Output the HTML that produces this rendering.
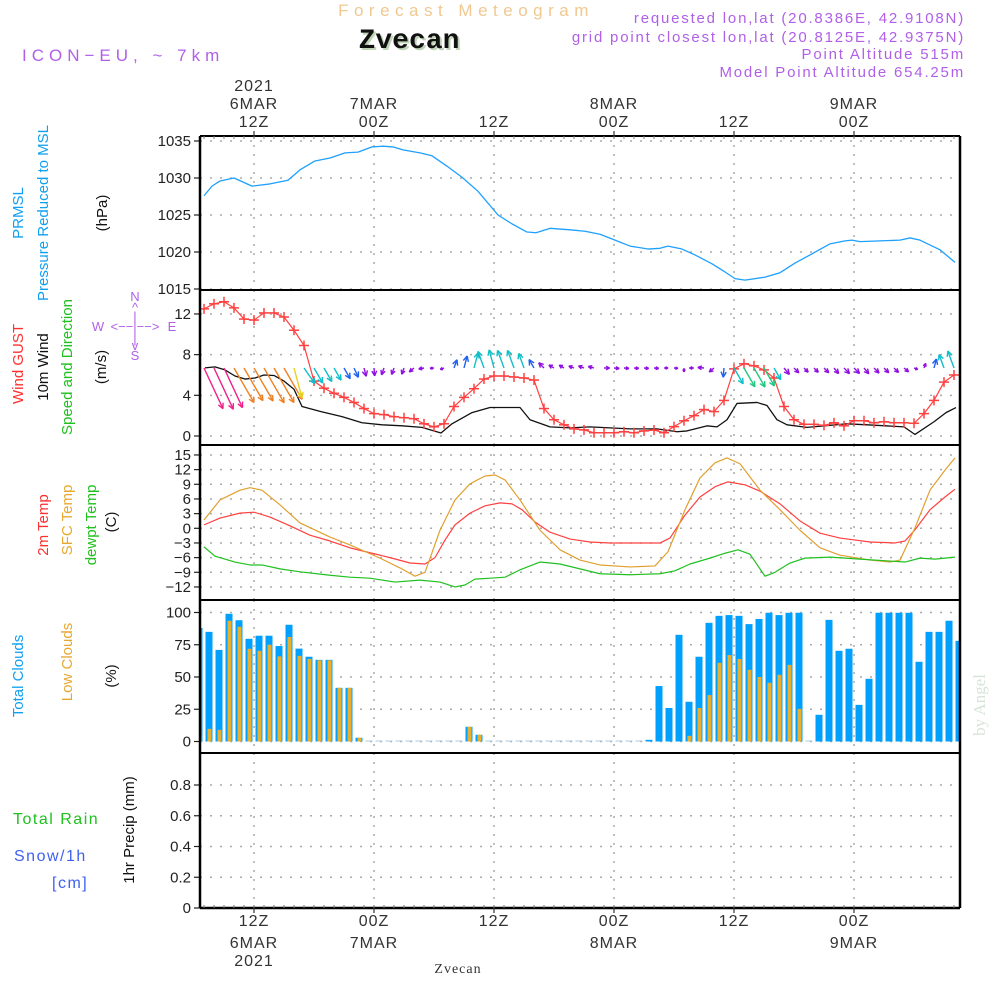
<!DOCTYPE html>
<html><head><meta charset="utf-8"><style>
body{margin:0;background:#fff;}
svg{display:block;font-family:"Liberation Sans",sans-serif;}
</style></head><body>
<svg id="chart" width="1000" height="1000" viewBox="0 0 1000 1000" xmlns="http://www.w3.org/2000/svg">
<rect width="1000" height="1000" fill="#fff"/>
<text x="466" y="16" text-anchor="middle" font-size="17" fill="#f0c890" letter-spacing="5.5">Forecast Meteogram</text>
<text x="411" y="50" text-anchor="middle" font-size="28" font-weight="bold" font-family="Liberation Mono,monospace" fill="#c0d4b8">Zvecan</text>
<text x="409" y="48" text-anchor="middle" font-size="28" font-weight="bold" font-family="Liberation Mono,monospace" fill="#111">Zvecan</text>
<text x="22" y="61" font-size="17" fill="#b060e8" letter-spacing="5">ICON−EU, ~ 7km</text>
<g font-size="15" fill="#b060e8" text-anchor="end" letter-spacing="1.8">
<text x="965" y="23">requested lon,lat (20.8386E, 42.9108N)</text>
<text x="965" y="42">grid point closest lon,lat (20.8125E, 42.9375N)</text>
<text x="965" y="59">Point Altitude 515m</text>
<text x="965" y="77">Model Point Altitude 654.25m</text>
</g>
<g font-size="15">
<text transform="translate(23,213) rotate(-90)" text-anchor="middle" fill="#10a0f0">PRMSL</text>
<text transform="translate(48,213) rotate(-90)" text-anchor="middle" fill="#10a0f0">Pressure Reduced to MSL</text>
<text transform="translate(107,213) rotate(-90)" text-anchor="middle" fill="#111">(hPa)</text>
<text transform="translate(23,364) rotate(-90)" text-anchor="middle" fill="#ff3030">Wind GUST</text>
<text transform="translate(48,367) rotate(-90)" text-anchor="middle" fill="#111">10m Wind</text>
<text transform="translate(72,367) rotate(-90)" text-anchor="middle" fill="#20c020">Speed and Direction</text>
<text transform="translate(106,367) rotate(-90)" text-anchor="middle" fill="#111">(m/s)</text>
<text transform="translate(48,525) rotate(-90)" text-anchor="middle" fill="#ff3030">2m Temp</text>
<text transform="translate(72,520) rotate(-90)" text-anchor="middle" fill="#e8a830">SFC Temp</text>
<text transform="translate(96,525) rotate(-90)" text-anchor="middle" fill="#20c020">dewpt Temp</text>
<text transform="translate(116,522) rotate(-90)" text-anchor="middle" fill="#111">(C)</text>
<text transform="translate(23,676) rotate(-90)" text-anchor="middle" fill="#10a0f0">Total Clouds</text>
<text transform="translate(72,662) rotate(-90)" text-anchor="middle" fill="#e8a830">Low Clouds</text>
<text transform="translate(116,676) rotate(-90)" text-anchor="middle" fill="#111">(%)</text>
<text transform="translate(134,830) rotate(-90)" text-anchor="middle" fill="#111">1hr Precip (mm)</text>
<text x="13" y="824" fill="#20c020" letter-spacing="1.5" font-size="16">Total  Rain</text>
<text x="14" y="861" fill="#4060f0" letter-spacing="1.5" font-size="16">Snow/1h</text>
<text x="52" y="888" fill="#4060f0" letter-spacing="1.5" font-size="16">[cm]</text>
</g>
<g fill="#b060e8" font-size="13" text-anchor="middle">
<text x="135" y="301">N</text><text x="135" y="312">^</text><text x="135" y="321">|</text>
<text x="135" y="331">&lt;−−|−−&gt;</text><text x="98" y="331">W</text><text x="172" y="331">E</text>
<text x="135" y="343">|</text><text x="135" y="350">v</text><text x="135" y="360">S</text>
</g>
<text transform="translate(985,705) rotate(-90)" text-anchor="middle" font-size="17" font-family="Liberation Serif,serif" fill="#d8e4d8">by Angel</text>
<text x="458" y="973" text-anchor="middle" font-size="14" font-family="Liberation Serif,serif" fill="#333" letter-spacing="1">Zvecan</text>
<g id="plot"></g>
</svg>
<script>
// ---- data ----
const pressH=[7,7.8,8.6,10,11.8,13.6,15.4,16.6,18.1,19.6,21.1,22.4,23.8,24.9,25.9,26.9,28.6,29.8,31.3,32.8,34.4,36.4,37.8,39.3,40.2,41.6,43.6,45.1,46.6,48.1,49.6,51.4,52.6,53.4,54.8,56.1,57.8,59.1,60.1,61.1,63.1,64.6,66.1,67.6,69.6,71.1,71.8,72.6,74.6,76.6,77.6,78.6,80.6,82.1];
const pressV=[1027.6,1028.9,1029.6,1030.0,1028.9,1029.2,1029.7,1031.1,1032.3,1032.7,1033.4,1033.5,1034.2,1034.3,1034.2,1033.8,1033.4,1033.0,1031.6,1030.1,1028.2,1025.0,1023.8,1022.7,1022.6,1023.2,1023.0,1022.8,1022.4,1021.6,1020.8,1020.4,1020.5,1020.8,1020.4,1019.6,1018.4,1017.3,1016.4,1016.2,1016.6,1017.2,1018.5,1019.6,1021.1,1021.5,1021.6,1021.4,1021.5,1021.6,1021.9,1021.6,1020.3,1018.6];
const pressTicks=[1015,1020,1025,1030,1035];
const gustH=[7,8,9,10,11,12,13,14,15,16,17,18,19,20,21,22,23,24,25,26,27,28,29,30,31,32,33,34,35,36,37,38,39,40,41,42,43,44,45,46,47,48,49,50,51,52,53,54,55,56,57,58,59,60,61,62,63,64,65,66,67,68,69,70,71,72,73,74,75,76,77,78,79,80,81,82];
const gustV=[12.5,13.0,13.2,12.6,11.5,11.4,12.1,12.1,11.7,10.4,8.9,5.4,4.7,4.2,3.8,3.3,2.7,2.2,2.1,1.9,1.8,1.7,1.2,0.9,1.2,2.9,3.8,4.65,5.6,5.9,5.9,5.8,5.7,5.5,2.7,1.6,1.1,0.7,0.6,0.32,0.32,0.32,0.42,0.32,0.5,0.59,0.32,0.92,1.5,2.0,2.6,2.4,3.5,6.6,7.1,6.9,6.5,5.7,2.9,1.6,1.15,1.15,1.05,1.3,1.0,1.5,1.5,1.3,1.4,1.3,1.3,1.25,2.2,3.5,5.3,6.0];
const spdH=[7.1,8.1,9.1,10.1,11.1,12.1,13,14,15,16,16.8,18.7,20.8,22.8,24.8,26.8,28.8,30.7,31.8,33.8,35.6,36.6,38.6,39.6,41.6,43.6,45.6,47.6,49.6,52.3,54.3,55.3,57.3,58.3,59.3,60.3,62.3,63.3,64.3,65.3,67.3,71.3,73.3,77,78.1,80,81.2,82.2];
const spdV=[6.7,6.8,6.5,5.9,5.6,5.7,6.0,5.95,5.4,4.6,2.9,2.4,1.9,1.3,1.1,1.0,0.85,0.3,1.2,2.3,2.8,2.8,2.8,1.6,0.9,0.8,0.9,0.8,0.7,0.7,0.42,0.5,1.0,0.9,1.6,3.2,3.3,3.0,1.6,1.1,0.85,1.2,1.1,0.9,0.15,1.4,2.3,2.8];
const arrowH=[7,8,9,10,11,12,13,14,15,16,17,18,19,20,21,22,23,24,25,26,27,28,29,30,31,32,33,34,35,36,37,38,39,40,41,42,43,44,45,46,47,48,49,50,51,52,53,54,55,56,57,58,59,60,61,62,63,64,65,66,67,68,69,70,71,72,73,74,75,76,77,78,79,80,81,82];
const arrowDir=[155,155,155,150,150,150,150,150,150,165,145,150,150,150,150,155,165,175,200,200,200,230,260,265,250,20,15,15,340,345,340,340,340,330,315,300,300,290,290,285,90,95,95,95,95,95,90,95,180,270,275,230,185,150,150,150,150,150,140,135,135,135,135,140,135,135,140,135,135,135,130,110,20,15,340,340];
const windTicks=[0,4,8,12];
const t2H=[7,8.6,10.6,12,13.6,15.6,17.6,19.6,21.6,23.6,25.6,27.6,29.1,30.1,31.1,32.1,33.6,35.1,36.6,37.8,38.8,40.1,41.6,43.6,45.6,47.6,50.6,52.6,53.6,55.1,56.6,58.1,59.4,61.1,62.6,64.6,66.6,68.6,70.6,73.6,76.1,77.1,78.1,79.6,81.1,82.1];
const t2V=[0.7,2.1,3.1,3.3,2.3,0.5,-1.4,-2.6,-4.0,-5.0,-6.0,-7.1,-7.3,-6.0,-2.4,0.7,3.1,4.6,5.2,5.0,3.8,1.3,-0.8,-2.2,-2.8,-3.0,-3.0,-3.0,-2.0,2.7,6.4,8.5,9.5,8.9,7.6,5.0,1.5,-1.0,-2.0,-2.8,-3.0,-2.6,-0.3,3.8,6.4,8.0];
const sfcH=[7,8.6,10.6,11.6,12.8,14.6,16.6,19.6,21.6,24.6,26.6,28.1,29.1,30.6,32.1,33.6,35.1,36.1,37.1,38.6,40.6,42.6,44.6,46.6,49.6,52.1,53.4,55.1,56.6,58.1,59.3,60.6,62.6,64.6,66.6,68.6,70.6,73.6,75.6,76.6,78.1,79.6,81.1,82.1];
const sfcV=[1.7,5.8,7.8,8.3,7.8,4.8,1.1,-1.8,-3.4,-6.1,-8.1,-9.8,-9.0,-0.4,5.8,9.1,10.7,10.9,9.9,5.8,-0.4,-4.4,-6.5,-7.5,-7.9,-7.7,-4.8,3.8,10.3,13.4,14.4,13.2,7.8,3.8,-0.4,-4.0,-5.5,-6.5,-6.9,-6.5,0.1,7.8,11.9,14.4];
const dewH=[7,8.1,10.1,11.6,12.8,14.6,16.6,19.6,21.6,23.6,26.1,28.6,30.6,32.1,33.1,34.1,35.6,37.1,38.6,40.6,42.6,44.6,46.6,49.6,52.6,54.1,55.6,57.6,59.1,60.4,61.6,63.1,64.1,65.6,67.1,69.6,72.6,75.6,77.1,78.6,80.1,82.1];
const dewV=[-3.8,-5.7,-6.9,-7.5,-7.5,-8.3,-8.9,-9.6,-10.0,-10.2,-11.0,-10.6,-11.0,-12.0,-11.6,-10.4,-10.2,-10.0,-8.5,-6.9,-7.3,-8.3,-9.3,-9.5,-9.3,-8.7,-7.3,-6.1,-5.1,-4.4,-5.3,-9.8,-9.0,-7.1,-6.1,-5.9,-6.3,-6.7,-6.9,-6.1,-6.3,-5.9];
const tempTicks=[-12,-9,-6,-3,0,3,6,9,12,15];
const cloudH=[6,7,8,9,10,11,12,13,14,15,16,17,18,19,20,21,22,23,24,25,26,27,28,29,30,31,32,33,34,35,36,37,38,39,40,41,42,43,44,45,46,47,48,49,50,51,52,53,54,55,56,57,58,59,60,61,62,63,64,65,66,67,68,69,70,71,72,73,74,75,76,77,78,79,80,81,82];
const totalCloud=[88,85,71,99,94,79.6,82,82,74,90.5,72,65.7,63.3,63.3,41.6,41.6,2.9,0,0,0,0,0,0,0,0,0,0,11.4,5.2,0,0,0,0,0,0,0,0,0,0,0,0,0,0,0,0,1.3,43,26,82.7,30.8,65.7,92,97.4,98,97.4,91,95,99.8,98,99.8,99.8,0,20.7,94.3,70.3,71.9,28.4,48.6,99.8,99.8,99.8,99.8,61.8,85,85,93.6,78];
const lowCloud=[4.7,9.8,9,93.6,88.9,71.9,70.3,75,66,81,66.4,64,63,63,41.6,41.6,2.9,0,0,0,0,0,0,0,0,0,0,11.4,5.2,0,0,0,0,0,0,0,0,0,0,0,0,0,0,0,0,0,0,0,0,4.4,26,36,61,67,64,55.6,50,45.5,51.7,59.4,25.3,0,0,0,0,0,0,0,0,0,0,0,0,0,0,0,0];
const cloudTicks=[0,25,50,75,100];
const precipTicks=[0,0.2,0.4,0.6,0.8];
const topLabels=[[12,"2021","6MAR","12Z"],[24,"","7MAR","00Z"],[36,"","","12Z"],[48,"","8MAR","00Z"],[60,"","","12Z"],[72,"","9MAR","00Z"]];
const botLabels=[[12,"12Z","6MAR","2021"],[24,"00Z","7MAR",""],[36,"12Z","",""],[48,"00Z","8MAR",""],[60,"12Z","",""],[72,"00Z","9MAR",""]];

// ---- scales ----
const L=200,R=960;
const X=h=>134+10*h;
const yP=p=>141+(1035-p)*7.4;
const yW=v=>436-v*10.17;
const yT=t=>528.3-t*4.889;
const yC=c=>741.5-c*1.29;
const yR=r=>908-r*153.75;
const panels=[[136,290],[290,445],[445,600],[600,753],[753,908]];

const NS="http://www.w3.org/2000/svg";
const plot=document.getElementById('plot');
function mk(tag,attrs,parent){const e=document.createElementNS(NS,tag);for(const k in attrs)e.setAttribute(k,attrs[k]);(parent||plot).appendChild(e);return e;}
function line(x1,y1,x2,y2,st,w,da,parent){return mk('line',{x1,y1,x2,y2,stroke:st,'stroke-width':w||1,'stroke-dasharray':da||'none'},parent);}

// grids
const grid=mk('g',{});


for(const [t,b] of panels){for(let h=12;h<=72;h+=12){line(X(h),t,X(h),b,'#aaa',1.5,'2 7',grid);}}
function hgrid(ticks,sc,fmt,name){
  const g=mk('g',{});
  
  
  ticks.forEach(v=>{const y=sc(v);line(L,y,R,y,'#aaa',1.5,'2 8',g);line(194,y,L,y,'#222',1.2,null,g);
    const tx=mk('text',{x:191,y:y+5,'text-anchor':'end','font-size':15,fill:'#222'},g);tx.textContent=fmt(v);});
}
hgrid(pressTicks,yP,v=>v,'pressure-axis');
hgrid(windTicks,yW,v=>v,'wind-axis');
hgrid(tempTicks,yT,v=>(v<0?'−':'')+Math.abs(v),'temp-axis');
hgrid(cloudTicks,yC,v=>v,'cloud-axis');
hgrid(precipTicks,yR,v=>v===0?'0':v.toFixed(1),'precip-axis');

// clouds
const cg=mk('g',{});


cloudH.forEach((h,i)=>{
  const cx=X(h+0.5);
  const bt=totalCloud[i],bl=lowCloud[i];
  const x0=Math.max(L,cx-3.5),x1=Math.min(R,cx+3.5);
  const b=mk('rect',{x:x0,y:yC(bt)-(bt<1?1:0),width:x1-x0,height:Math.max(1,yC(0)-yC(bt)),fill:bt<1?'#a8c8e0':'#00a0ff'},cg);
  
  
  if(bl>0){const o=mk('rect',{x:Math.max(L,cx-1.5),y:yC(bl),width:Math.min(R,cx+2.5)-Math.max(L,cx-1.5),height:yC(0)-yC(bl),fill:'#e8b030'},cg);
    
    }
});

function poly(H,V,sc,color,w,name){
  const p=mk('polyline',{points:H.map((h,i)=>X(h)+','+sc(V[i])).join(' '),fill:'none',stroke:color,'stroke-width':w,'stroke-linejoin':'round'});
  
  
  return p;
}
poly(pressH,pressV,yP,'#1ea0ff',1.3,'pressure-line');
poly(t2H,t2V,yT,'#ff4040',1.2,'temp-2m-line');
poly(sfcH,sfcV,yT,'#e0a030',1.2,'sfc-temp-line');
poly(dewH,dewV,yT,'#20c020',1.2,'dewpoint-line');
poly(spdH,spdV,yW,'#111',1.3,'wind-speed-line');
poly(gustH,gustV,yW,'#ff4040',1.2,'gust-line');
const gm=mk('g',{});


gustH.forEach((h,i)=>{const x=X(h),y=yW(gustV[i]);line(x-5,y,x+5,y,'#ff4040',1.5,null,gm);line(x,y-5,x,y+5,'#ff4040',1.5,null,gm);});

// wind arrows
function spdAt(h){for(let i=0;i<spdH.length-1;i++){if(h<=spdH[i+1]){const f=Math.max(0,(h-spdH[i])/(spdH[i+1]-spdH[i]));return spdV[i]+f*(spdV[i+1]-spdV[i]);}}return spdV[spdV.length-1];}
function arrowColor(s){if(s>6.3)return '#f0208a';if(s>5)return '#f08020';if(s>4)return '#e8d020';if(s>2.95)return '#20c880';if(s>2)return '#10c0c8';if(s>1.3)return '#2060f0';return '#9010e0';}
const ag=mk('g',{});


arrowH.forEach((h,i)=>{
  const s=spdAt(h),len=Math.max(4,s*6.7),d=arrowDir[i]*Math.PI/180;
  const x0=X(h),y0=368,x1=x0+Math.sin(d)*len,y1=y0-Math.cos(d)*len;
  const c=arrowColor(s);
  const a=mk('g',{},ag);
  
  
  line(x0,y0,x1,y1,c,1.4,null,a);
  const hl=Math.min(6,len*0.7);
  [0.45,-0.45].forEach(o=>{const b=d+Math.PI+o;line(x1,y1,x1+Math.sin(b)*hl,y1-Math.cos(b)*hl,c,1.4,null,a);});
});

// frames
const fr=mk('g',{});


panels.forEach(([t,b])=>{line(L,t,R,t,'#000',2,null,fr);});
line(L,908,R,908,'#000',2.5,null,fr);
line(L,136,L,908,'#000',2.5,null,fr);
line(R,136,R,908,'#000',2.5,null,fr);
for(let h=7;h<=82;h++){line(X(h),136,X(h),139,'#777',1,null,fr);line(X(h),905,X(h),908,'#777',1,null,fr);}
const tl=mk('g',{font:'16px "Liberation Sans",sans-serif',fill:'#333','text-anchor':'middle'});


topLabels.forEach(([h,a,b,c])=>{const x=X(h);line(x,131,x,136,'#333',1.2,null,tl);
  [[a,91],[b,109],[c,127]].forEach(([s,y])=>{if(s){const t=mk('text',{x,y,'font-size':16,'letter-spacing':1},tl);t.textContent=s;}});});
botLabels.forEach(([h,a,b,c])=>{const x=X(h);line(x,908,x,913,'#333',1.2,null,tl);
  [[a,926],[b,948],[c,966]].forEach(([s,y])=>{if(s){const t=mk('text',{x,y,'font-size':16,'letter-spacing':1},tl);t.textContent=s;}});});
</script>
</body></html>
